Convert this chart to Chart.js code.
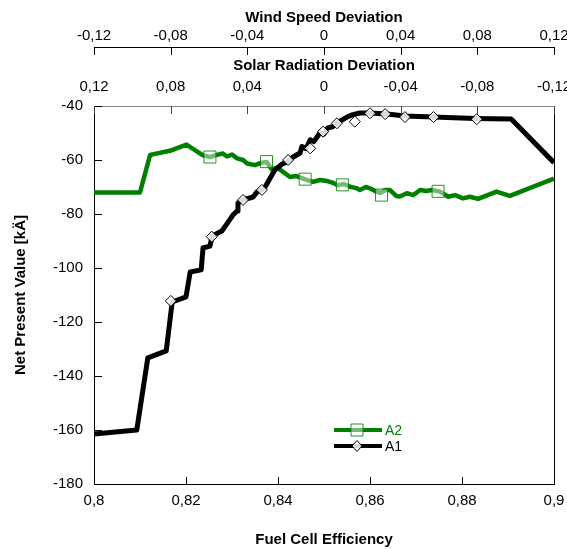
<!DOCTYPE html>
<html><head><meta charset="utf-8">
<script src="https://cdn.jsdelivr.net/npm/chart.js@4.4.1/dist/chart.umd.min.js"></script>
<style>html,body{margin:0;padding:0;background:#fff;}#wrap{width:567px;height:549px;}</style>
</head><body><div id="wrap"><canvas id="c" width="567" height="549"></canvas></div>
<script>
// ---- data ----
const xTickValues = [0.8, 0.82, 0.84, 0.86, 0.88, 0.9];
const xTickLabels = ['0,8', '0,82', '0,84', '0,86', '0,88', '0,9'];
const yTickValues = [-180, -160, -140, -120, -100, -80, -60, -40];
const yTickLabels = ['-180', '-160', '-140', '-120', '-100', '-80', '-60', '-40'];
const devTickValues = [-0.12, -0.08, -0.04, 0, 0.04, 0.08, 0.12];
const devTickLabels = ['-0,12', '-0,08', '-0,04', '0', '0,04', '0,08', '0,12'];

const a1X = [0.8, 0.8093, 0.8117, 0.8157, 0.8170, 0.8200, 0.8209, 0.8233, 0.8237, 0.8252, 0.8257, 0.8278, 0.8287, 0.8302, 0.8311, 0.8313, 0.8324, 0.8346, 0.8354, 0.8365, 0.8372, 0.8383, 0.8393, 0.8409, 0.8420, 0.8433, 0.8448, 0.8452, 0.8461, 0.8470, 0.8478, 0.8491, 0.8500, 0.8507, 0.8520, 0.8528, 0.8550, 0.8561, 0.8578, 0.8600, 0.8637, 0.8676, 0.8737, 0.8828, 0.8907, 0.9];
const a1Y = [-161.5, -160.0, -133.3, -130.7, -112.6, -110.7, -101.5, -100.7, -92.6, -91.9, -88.1, -86.3, -84.1, -80.4, -78.9, -75.9, -74.8, -73.7, -71.9, -71.1, -70.0, -66.7, -63.7, -61.5, -60.7, -58.9, -57.4, -55.0, -55.8, -52.5, -53.2, -50.0, -50.4, -48.2, -47.6, -46.3, -44.1, -43.3, -42.6, -42.6, -43.0, -43.7, -44.1, -44.6, -44.8, -61.0];
const a1MarkX = [0.8167, 0.8256, 0.8324, 0.8365, 0.8422, 0.8470, 0.8498, 0.8528, 0.8567, 0.8600, 0.8633, 0.8676, 0.8738, 0.8832];
const a1MarkY = [-112.2, -88.4, -74.8, -71.1, -60.0, -55.7, -49.5, -46.4, -45.8, -42.7, -43.0, -44.1, -44.1, -44.9];

const a2X = [0.8, 0.81, 0.8122, 0.8165, 0.8201, 0.8237, 0.8252, 0.8267, 0.8280, 0.8289, 0.8300, 0.8311, 0.8324, 0.8333, 0.8350, 0.8363, 0.8375, 0.8386, 0.8400, 0.8411, 0.8426, 0.8439, 0.8459, 0.8476, 0.8491, 0.8507, 0.8520, 0.8530, 0.8543, 0.8557, 0.8570, 0.8578, 0.8591, 0.8600, 0.8611, 0.8622, 0.8633, 0.8643, 0.8657, 0.8665, 0.8680, 0.8694, 0.8709, 0.8722, 0.8735, 0.8752, 0.8770, 0.8785, 0.8802, 0.8817, 0.8835, 0.8875, 0.8904, 0.9];
const a2Y = [-72.0, -72.0, -58.1, -56.6, -54.3, -58.3, -58.9, -58.1, -57.6, -58.7, -58.0, -59.4, -60.0, -61.3, -61.9, -61.1, -60.7, -63.3, -63.0, -64.4, -66.3, -65.9, -67.2, -68.1, -67.4, -67.8, -68.5, -69.4, -68.9, -69.9, -70.4, -71.1, -70.0, -70.5, -71.5, -72.2, -71.1, -71.1, -73.3, -73.5, -72.3, -73.0, -71.1, -71.5, -71.1, -71.7, -73.6, -73.0, -74.2, -73.6, -74.4, -71.7, -73.3, -66.9];
const a2MarkX = [0.8252, 0.8375, 0.8459, 0.8540, 0.8625, 0.8748];
const a2MarkY = [-58.9, -60.6, -67.1, -69.2, -73.0, -71.6];

const seriesNames = ['A2', 'A1'];
const seriesColors = ['#008000', '#000000'];

// ---- helpers ----
const pts = (xs, ys) => xs.map((x, i) => ({x: x, y: ys[i]}));
const labelFor = (vals, labels) => (v) => {
  const i = vals.findIndex(t => Math.abs(t - v) < 1e-9);
  return i >= 0 ? labels[i] : '';
};
const FONT = "'Liberation Sans', Arial, sans-serif";
Chart.defaults.font.family = FONT;
Chart.defaults.color = '#000';

const tickFont = {family: FONT, size: 15};
const titleFont = {family: FONT, size: 15, weight: 'bold'};
const noGrid = {display: true, drawOnChartArea: false, drawTicks: false};

function hScaleFit(h) {
  return function (s) { s.height = h; s.paddingLeft = 0; s.paddingRight = 0; };
}

const frameTicks = {
  id: 'frameTicks',
  afterDraw(chart) {
    const ctx = chart.ctx, a = chart.chartArea, s = chart.scales;
    const seg = (x1, y1, x2, y2, c) => {
      ctx.beginPath(); ctx.strokeStyle = c; ctx.lineWidth = 1;
      ctx.moveTo(x1, y1); ctx.lineTo(x2, y2); ctx.stroke();
    };
    ctx.save();
    const rx = Math.round(a.right) + 0.5;
    seg(rx, a.top, rx, a.bottom, '#000');
    xTickValues.forEach(v => { const p = Math.round(s.x.getPixelForValue(v)) + 0.5; seg(p, a.bottom, p, a.bottom - 7, '#000'); });
    yTickValues.forEach(v => { const p = Math.round(s.y.getPixelForValue(v)) + 0.5; seg(a.left, p, a.left + 8, p, '#000'); });
    devTickValues.forEach(v => { const p = Math.round(s.solar.getPixelForValue(v)) + 0.5; seg(p, a.top, p, a.top + 8, '#444'); });
    const wb = Math.round(s.wind.bottom);
    devTickValues.forEach(v => { const p = Math.round(s.wind.getPixelForValue(v)) + 0.5; seg(p, wb, p, wb + 8, '#000'); });

    // legend
    const lx1 = a.left + 240, lx2 = a.left + 288, mx = a.left + 263;
    const rows = [a.top + 324, a.top + 340];
    rows.forEach((y, i) => {
      ctx.beginPath(); ctx.strokeStyle = seriesColors[i]; ctx.lineWidth = 4;
      ctx.moveTo(lx1, y); ctx.lineTo(lx2, y); ctx.stroke();
      ctx.lineWidth = 1;
      ctx.beginPath();
      if (i === 0) {
        ctx.fillStyle = 'rgba(255,255,255,0.45)';
        ctx.strokeStyle = 'rgba(0,128,0,0.85)';
        ctx.rect(mx - 6, y - 6, 12, 12);
      } else {
        ctx.fillStyle = 'rgba(255,255,255,0.85)';
        ctx.strokeStyle = '#000';
        ctx.moveTo(mx - 5, y); ctx.lineTo(mx, y - 5.5); ctx.lineTo(mx + 5, y); ctx.lineTo(mx, y + 5.5); ctx.closePath();
      }
      ctx.fill(); ctx.stroke();
      ctx.fillStyle = seriesColors[i];
      ctx.font = '14px ' + FONT;
      ctx.textAlign = 'left'; ctx.textBaseline = 'middle';
      ctx.fillText(seriesNames[i], lx2 + 3, y + 1);
    });
    ctx.restore();
  }
};

new Chart(document.getElementById('c'), {
  type: 'line',
  data: {
    datasets: [
      {label: 'A1 markers', data: pts(a1MarkX, a1MarkY), showLine: false, pointStyle: 'rectRot', pointRadius: 5.5, pointBorderWidth: 1, pointBorderColor: '#000', pointBackgroundColor: 'rgba(255,255,255,0.85)', order: 0},
      {label: 'A2 markers', data: pts(a2MarkX, a2MarkY), showLine: false, pointStyle: 'rect', pointRadius: 8.5, pointBorderWidth: 1, pointBorderColor: 'rgba(0,128,0,0.85)', pointBackgroundColor: 'rgba(255,255,255,0.45)', order: 0},
      {label: 'A1', data: pts(a1X, a1Y), borderColor: seriesColors[1], borderWidth: 5, pointRadius: 0, tension: 0, borderJoinStyle: 'round', order: 1},
      {label: 'A2', data: pts(a2X, a2Y), borderColor: seriesColors[0], borderWidth: 4.5, pointRadius: 0, tension: 0, borderJoinStyle: 'round', order: 2}
    ]
  },
  options: {
    responsive: false,
    animation: false,
    devicePixelRatio: 1,
    layout: {padding: {left: 0, right: 13, top: 0, bottom: 0}},
    plugins: {legend: {display: false}, tooltip: {enabled: false}},
    scales: {
      x: {
        type: 'linear', position: 'bottom', min: 0.8, max: 0.9,
        afterBuildTicks: s => { s.ticks = xTickValues.map(v => ({value: v})); },
        ticks: {autoSkip: false, maxRotation: 0, minRotation: 0, padding: 8, font: tickFont, color: '#000', callback: labelFor(xTickValues, xTickLabels)},
        grid: noGrid, border: {display: true, color: '#000', width: 1},
        title: {display: true, text: 'Fuel Cell Efficiency', font: titleFont, color: '#000', padding: {top: 0, bottom: 0}},
        afterFit: hScaleFit(65)
      },
      y: {
        type: 'linear', position: 'left', min: -180, max: -40,
        afterBuildTicks: s => { s.ticks = yTickValues.map(v => ({value: v})); },
        ticks: {autoSkip: false, padding: 11, font: tickFont, color: '#000', callback: labelFor(yTickValues, yTickLabels)},
        grid: noGrid, border: {display: true, color: '#000', width: 1},
        title: {display: true, text: 'Net Present Value [kÄ]', font: titleFont, color: '#000', padding: {top: 12, bottom: 0}},
        afterFit: s => { s.width = 94; s.paddingTop = 0; s.paddingBottom = 0; }
      },
      solar: {
        type: 'linear', position: 'top', min: -0.12, max: 0.12, reverse: true, weight: 0,
        afterBuildTicks: s => { s.ticks = devTickValues.map(v => ({value: v})); },
        ticks: {autoSkip: false, maxRotation: 0, minRotation: 0, padding: 10, font: tickFont, color: '#000', callback: labelFor(devTickValues, devTickLabels)},
        grid: noGrid, border: {display: true, color: '#888', width: 1},
        title: {display: true, text: 'Solar Radiation Deviation', font: titleFont, color: '#000', padding: {top: 10, bottom: 0}},
        afterFit: hScaleFit(59)
      },
      wind: {
        type: 'linear', position: 'top', min: -0.12, max: 0.12, weight: 1,
        afterBuildTicks: s => { s.ticks = devTickValues.map(v => ({value: v})); },
        ticks: {autoSkip: false, maxRotation: 0, minRotation: 0, padding: 2, font: tickFont, color: '#000', callback: labelFor(devTickValues, devTickLabels)},
        grid: noGrid, border: {display: true, color: '#000', width: 1},
        title: {display: true, text: 'Wind Speed Deviation', font: titleFont, color: '#000', padding: {top: 9, bottom: 0}},
        afterFit: hScaleFit(47)
      }
    }
  },
  plugins: [frameTicks]
});
</script>
</body></html>
